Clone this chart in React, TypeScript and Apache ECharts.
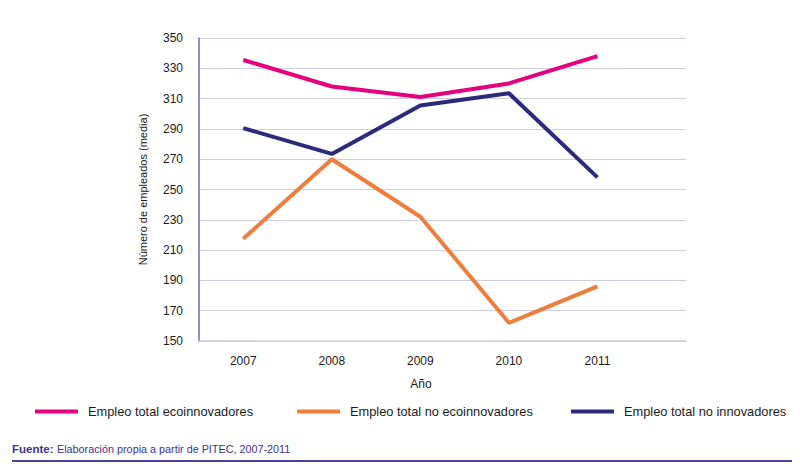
import React, { useEffect, useRef } from "react";
import * as echarts from "echarts";

const years = [2007, 2008, 2009, 2010, 2011];
const ecoinnovadores = [335.5, 318, 311, 320, 338];
const noEcoinnovadores = [217.5, 270, 232, 162, 186];
const noInnovadores = [290.5, 273.5, 305.5, 313.5, 258];
const seriesNames = [
  "Empleo total ecoinnovadores",
  "Empleo total no ecoinnovadores",
  "Empleo total no innovadores",
];
const colors = ["#e5007d", "#ef7d3b", "#2d2a7e"];
const FONT = "'Liberation Sans', Arial, sans-serif";

export default function App() {
  const ref = useRef<HTMLDivElement>(null);
  useEffect(() => {
    if (!ref.current) return;
    const chart = echarts.init(ref.current, undefined, { renderer: "svg" });
    const allData = [ecoinnovadores, noEcoinnovadores, noInnovadores];
    const legendLefts = [35, 297, 571];
    chart.setOption({
      animation: false,
      backgroundColor: "#ffffff",
      textStyle: { fontFamily: FONT },
      grid: { left: 199, right: 114, top: 38, bottom: 131, containLabel: false },
      legend: seriesNames.map((n, i) => ({
        data: [n],
        left: legendLefts[i],
        top: 405,
        padding: 0,
        icon: "rect",
        itemWidth: 43,
        itemHeight: 4,
        itemGap: 0,
        selectedMode: false,
        textStyle: {
          fontFamily: FONT,
          fontSize: 12.8,
          color: "#1a1a1a",
          padding: [0, 0, 0, 5],
        },
      })),
      xAxis: {
        type: "value",
        min: 2006.5,
        max: 2012,
        splitNumber: 5,
        axisLine: { show: true, lineStyle: { color: "#cfcce6", width: 1.5 } },
        axisTick: { show: false },
        splitLine: { show: false },
        axisLabel: {
          margin: 14,
          fontSize: 12,
          color: "#1a1a1a",
          fontFamily: FONT,
          showMinLabel: true,
          showMaxLabel: true,
          formatter: (v: number) =>
            Number.isInteger(v) && years.indexOf(v) >= 0 ? String(v) : "",
        },
      },
      yAxis: {
        type: "value",
        min: 150,
        max: 350,
        interval: 20,
        name: "Número de empleados (media)",
        nameLocation: "middle",
        nameGap: 51,
        nameTextStyle: { fontSize: 11, color: "#1a1a1a", fontFamily: FONT },
        axisLine: { show: true, lineStyle: { color: "#6f69b2", width: 1.5 } },
        axisTick: { show: false },
        splitLine: { show: true, lineStyle: { color: "#cfcce6", width: 1.2 } },
        axisLabel: { margin: 16, fontSize: 12, color: "#1a1a1a", fontFamily: FONT },
      },
      series: seriesNames.map((n, i) => ({
        name: n,
        type: "line",
        data: years.map((y, j) => [y, allData[i][j]]),
        symbol: "none",
        lineStyle: { color: colors[i], width: 4 },
        itemStyle: { color: colors[i] },
      })),
      graphic: [
        {
          type: "text",
          x: 421,
          y: 384,
          style: {
            text: "Año",
            fontSize: 12,
            fill: "#1a1a1a",
            fontFamily: FONT,
            align: "center",
            verticalAlign: "middle",
          },
        },
        {
          type: "text",
          x: 12,
          y: 449,
          style: {
            text: "Fuente:",
            fontSize: 11.5,
            fontWeight: "bold",
            fill: "#3b3191",
            fontFamily: FONT,
            verticalAlign: "middle",
          },
        },
        {
          type: "text",
          x: 57,
          y: 449,
          style: {
            text: "Elaboración propia a partir de PITEC, 2007-2011",
            fontSize: 10.8,
            fill: "#3b3191",
            fontFamily: FONT,
            verticalAlign: "middle",
          },
        },
        {
          type: "line",
          shape: { x1: 12, y1: 461, x2: 800, y2: 461 },
          style: { stroke: "#4a3f9a", lineWidth: 2 },
        },
      ],
    });
    return () => chart.dispose();
  }, []);
  return <div ref={ref} style={{ width: 800, height: 472, margin: -8 }} />;
}
